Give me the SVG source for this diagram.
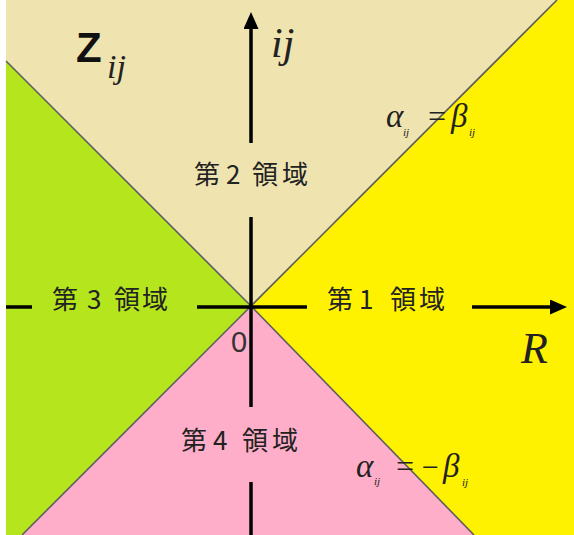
<svg xmlns="http://www.w3.org/2000/svg" width="574" height="535" viewBox="0 0 574 535">
  <defs>
    <marker id="arrow" markerUnits="userSpaceOnUse" markerWidth="17" markerHeight="15" refX="4" refY="7.5" orient="auto">
      <path d="M0,0 L17,7.5 L0,15 z" fill="#000"/>
    </marker>
  </defs>
  <style>
    .div { stroke: #5e5e5e; stroke-width: 1.6; fill: none; }
    .axis { stroke: #000; stroke-width: 3.5; fill: none; }
    .lbl { font-family: "Noto Sans CJK JP", "Noto Sans", sans-serif; font-size: 26px; fill: #222; }
    .math { font-family: "Liberation Serif", "DejaVu Serif", serif; font-style: italic; fill: #222; }
  </style>
  <rect x="0" y="0" width="574" height="535" fill="#fff"/>

  <g id="region2">
    <polygon points="6,0 557,0 251,306 6,61" fill="#EFE4B0"/>
    <text class="lbl" x="194 218 226 240 252 282" y="184">第 2 領域</text>
  </g>
  <g id="region1">
    <polygon points="557,0 574,0 574,535 474,535 251,306" fill="#FFF200"/>
    <text class="lbl" x="327 351 359 373 390 419" y="309">第 1 領域</text>
  </g>
  <g id="region3">
    <polygon points="6,61 251,306 22,535 6,535" fill="#B5E61D"/>
    <text class="lbl" x="52 76 87 101 114 142" y="309">第 3 領域</text>
  </g>
  <g id="region4">
    <polygon points="22,535 251,306 474,535" fill="#FFAEC9"/>
    <text class="lbl" x="181 205 213 227 242 272" y="450">第 4 領域</text>
  </g>

  <g id="boundaries">
    <line class="div" x1="6" y1="61" x2="251" y2="306"/>
    <line class="div" x1="557" y1="0" x2="251" y2="306"/>
    <line class="div" x1="22" y1="535" x2="251" y2="306"/>
    <line class="div" x1="474" y1="535" x2="251" y2="306"/>
  </g>

  <g id="connectors">
    <line class="axis" x1="6" y1="307" x2="32" y2="307"/>
    <line class="axis" x1="197" y1="307" x2="307" y2="307"/>
    <line class="axis" x1="472" y1="307" x2="554" y2="307" marker-end="url(#arrow)"/>
    <line class="axis" x1="251" y1="143" x2="251" y2="25" marker-end="url(#arrow)"/>
    <line class="axis" x1="251" y1="217" x2="251" y2="407"/>
    <line class="axis" x1="251" y1="482" x2="251" y2="535"/>
  </g>

  <g id="labels">
    <text x="76" y="62" font-family="Liberation Sans, Arial, sans-serif" font-weight="bold" font-size="42" fill="#111">Z</text>
    <text class="math" x="107" y="78" font-size="34">ij</text>
    <text class="math" x="271" y="57" font-size="42">ij</text>
    <text class="math" x="521" y="363" font-size="44">R</text>
    <text x="231" y="352" font-family="Liberation Sans, Arial, sans-serif" font-size="29" fill="#333">0</text>
  </g>

  <g id="eq1">
    <text class="math" x="386" y="127" font-size="33">α</text>
    <text class="math" x="403" y="136" font-size="11">ij</text>
    <text class="math" x="426" y="127" font-size="32" font-style="normal">=</text>
    <text class="math" x="451" y="127" font-size="33">β</text>
    <text class="math" x="469" y="136" font-size="11">ij</text>
  </g>
  <g id="eq2">
    <text class="math" x="356" y="477" font-size="33">α</text>
    <text class="math" x="374" y="485" font-size="11">ij</text>
    <text class="math" x="394" y="477" font-size="32" font-style="normal">=</text>
    <text class="math" x="420" y="477" font-size="30" font-style="normal">−</text>
    <text class="math" x="443" y="477" font-size="33">β</text>
    <text class="math" x="462" y="486" font-size="11">ij</text>
  </g>
</svg>
